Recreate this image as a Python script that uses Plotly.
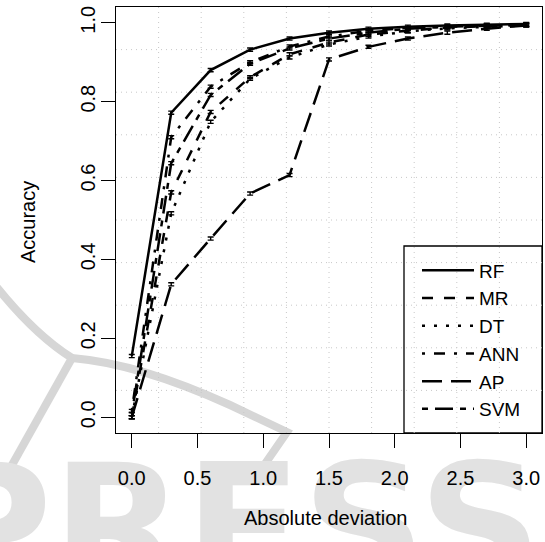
import plotly.graph_objects as go

# ---- data ----
x_dev = [0.0, 0.3, 0.6, 0.9, 1.2, 1.5, 1.8, 2.1, 2.4, 2.7, 3.0]
acc_rf = [0.155, 0.772, 0.880, 0.932, 0.960, 0.975, 0.985, 0.990, 0.993, 0.995, 0.997]
acc_mr = [0.000, 0.570, 0.774, 0.862, 0.920, 0.950, 0.970, 0.980, 0.988, 0.992, 0.995]
acc_dt = [0.000, 0.517, 0.749, 0.858, 0.912, 0.945, 0.965, 0.978, 0.986, 0.990, 0.993]
acc_ann = [0.016, 0.710, 0.838, 0.900, 0.940, 0.965, 0.980, 0.987, 0.990, 0.993, 0.995]
acc_ap = [0.000, 0.337, 0.453, 0.567, 0.614, 0.907, 0.939, 0.960, 0.975, 0.985, 0.993]
acc_svm = [0.008, 0.644, 0.817, 0.896, 0.935, 0.960, 0.975, 0.985, 0.990, 0.993, 0.995]
err_small = [0.004, 0.004, 0.004, 0.004, 0.004, 0.004, 0.004, 0.004, 0.004, 0.004, 0.004]

series_names = ["RF", "MR", "DT", "ANN", "AP", "SVM"]
series_vals = [acc_rf, acc_mr, acc_dt, acc_ann, acc_ap, acc_svm]
series_dash = ["solid", "11px,11px", "3px,9px", "3px,9px,11px,9px", "20px,9px", "6px,7px,18px,7px"]

x_ticks = [0.0, 0.5, 1.0, 1.5, 2.0, 2.5, 3.0]
y_ticks = [0.0, 0.2, 0.4, 0.6, 0.8, 1.0]

watermark_text = "PRESS"

W, H = 545, 542
# plot region in pixels
L, R, T, B = 116, 542, 7, 433
xr = [-0.12, 3.12]
yr = [-0.04, 1.04]

FONT = "Liberation Sans"
FS = 20

fig = go.Figure()

# background watermark subplot (drawn first, underneath)
fig.add_trace(go.Scatter(
    x=[234], y=[543], mode="text", text=[watermark_text],
    textfont=dict(family="DejaVu Sans", size=172, color="#e2e2e2", weight="bold"),
    xaxis="x", yaxis="y", showlegend=False, hoverinfo="skip"))

for name, vals, dash in zip(series_names, series_vals, series_dash):
    fig.add_trace(go.Scatter(
        x=x_dev, y=vals, name=name, mode="lines",
        line=dict(color="black", width=2.5, dash=dash),
        error_y=dict(type="data", array=err_small, visible=True,
                     color="black", thickness=1.4, width=3),
        xaxis="x2", yaxis="y2", hoverinfo="skip"))

shapes = []
# faint watermark swoosh (decoration of the source image)
swoosh = dict(color="#d6d6d6", width=8)
shapes.append(dict(type="path", xref="x", yref="y", layer="below", line=swoosh,
                   path="M -5,285 Q 35,335 72,358"))
shapes.append(dict(type="path", xref="x", yref="y", layer="below", line=swoosh,
                   path="M 72,358 L 12,465"))
shapes.append(dict(type="path", xref="x", yref="y", layer="below", line=swoosh,
                   path="M 72,358 C 120,362 170,378 230,405 L 287,432 L 258,474"))

# grid like R's grid(10, 10): equal divisions of the user region
for k in range(1, 10):
    gx = xr[0] + k * (xr[1] - xr[0]) / 10
    gy = yr[0] + k * (yr[1] - yr[0]) / 10
    shapes.append(dict(type="line", xref="x2", yref="y2", x0=gx, x1=gx, y0=yr[0], y1=yr[1],
                       line=dict(color="#c8c8c8", width=1, dash="1px,4px"), layer="below"))
    shapes.append(dict(type="line", xref="x2", yref="y2", x0=xr[0], x1=xr[1], y0=gy, y1=gy,
                       line=dict(color="#c8c8c8", width=1, dash="1px,4px"), layer="below"))

# legend box (bottom-right, like R legend)
LB_L, LB_T = 404, 246
shapes.append(dict(type="rect", xref="paper", yref="paper",
                   x0=LB_L / W, x1=R / W, y0=(H - B) / H, y1=(H - LB_T) / H,
                   line=dict(color="black", width=1.3), fillcolor="white", layer="below"))

fig.update_layout(
    width=W, height=H,
    margin=dict(l=0, r=0, t=0, b=0),
    paper_bgcolor="white", plot_bgcolor="rgba(0,0,0,0)",
    font=dict(family=FONT, size=FS, color="black"),
    xaxis=dict(domain=[0, 1], range=[0, W], visible=False, fixedrange=True),
    yaxis=dict(domain=[0, 1], range=[H, 0], visible=False, fixedrange=True),
    xaxis2=dict(domain=[L / W, R / W], range=xr, anchor="y2",
                tickvals=x_ticks, ticktext=[f"{v:.1f}" for v in x_ticks],
                ticks="outside", ticklen=14, tickwidth=1.3, tickcolor="black",
                showline=True, linecolor="black", linewidth=1.3, mirror=True,
                showgrid=False, zeroline=False, ticklabelstandoff=13,
                tickfont=dict(family=FONT, size=FS, color="black")),
    yaxis2=dict(domain=[(H - B) / H, (H - T) / H], range=yr, anchor="x2",
                tickvals=y_ticks, ticktext=[f"{v:.1f}" for v in y_ticks],
                ticks="outside", ticklen=14, tickwidth=1.3, tickcolor="black",
                showline=True, linecolor="black", linewidth=1.3, mirror=True,
                showgrid=False, zeroline=False, tickangle=-90, ticklabelstandoff=-2,
                tickfont=dict(family=FONT, size=FS, color="black")),
    shapes=shapes,
    showlegend=True,
    legend=dict(x=417 / W, y=(H - 340) / H, xanchor="left", yanchor="middle",
                bgcolor="rgba(0,0,0,0)", borderwidth=0,
                itemwidth=52, font=dict(family=FONT, size=19, color="black")),
    annotations=[
        dict(text="Absolute deviation", xref="paper", yref="paper",
             x=(L + R) / 2 / W - 0.007, y=(H - 518) / H, showarrow=False,
             xanchor="center", yanchor="middle", font=dict(family=FONT, size=FS, color="black")),
        dict(text="Accuracy", xref="paper", yref="paper",
             x=28 / W, y=(H - 222) / H, showarrow=False, textangle=-90,
             xanchor="center", yanchor="middle", font=dict(family=FONT, size=FS, color="black")),
    ],
)

fig.write_html("out.html", config={"displayModeBar": False},
               post_script="document.body.style.margin='0px';")
